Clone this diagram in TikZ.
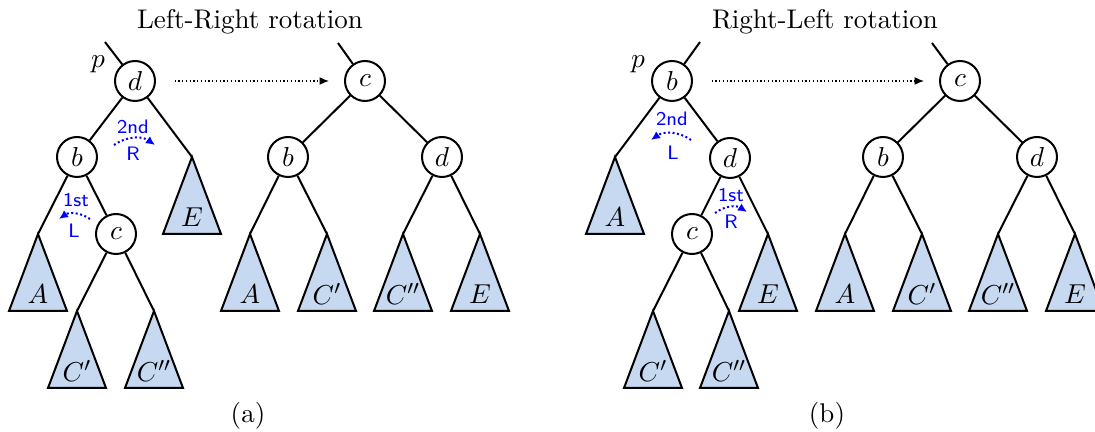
\documentclass[tikz,border=0pt]{standalone}
\usetikzlibrary{arrows.meta,calc}
\definecolor{trifill}{RGB}{198,217,240}
\newcommand{\mysub}[4]{%
  \coordinate (#1) at (#2,#3);
  \draw[tri] (#1) -- ++(-29,77) -- ++(58,0) -- cycle;
  \node[trilab] (#1lab) at ($(#1)+(0,60)$) {$#4$};
}
\begin{document}
\begin{tikzpicture}[x=0.4pt,y=-0.4pt,
  every node/.style={font=\fontsize{10.8}{13}\selectfont},
  vtx/.style={draw,circle,line width=0.8pt,minimum size=16pt,inner sep=0pt,fill=white},
  edge/.style={line width=0.8pt},
  tri/.style={draw,line width=0.8pt,fill=trifill,line join=miter},
  trilab/.style={inner sep=0pt},
  rotlab/.style={text=blue,font=\sffamily\fontsize{7.8}{9}\selectfont,inner sep=0pt},
  rotarr/.style={blue,densely dotted,line width=0.8pt,-{Latex[length=3.6pt,width=3.4pt]}},
  trans/.style={densely dotted,line width=0.5pt,-{Latex[length=3.8pt,width=3.2pt]},shorten <=7.4pt,shorten >=6pt}
]
\clip (0,0) rectangle (1095,432);
\useasboundingbox (0,0) rectangle (1095,432);

% ---------- (a) Left-Right ----------
\node (titA) at (250,22) {Left-Right rotation};
\node (capA) at (248,416) {(a)};

\coordinate (pa) at (105,42);
\node[vtx] (ad) at (135,81) {$d$};
\node (plA) at (98,64) {$p$};
\node[vtx] (ab) at (77,157) {$b$};
\node[vtx] (ac) at (116,234) {$c$};
\draw[edge] (pa) -- (ad);
\draw[edge] (ad) -- (ab);
\mysub{aE}{192}{157}{E}
\draw[edge] (ad) -- (aE);
\mysub{aA}{38}{234}{A}
\draw[edge] (ab) -- (aA);
\draw[edge] (ab) -- (ac);
\mysub{aC1}{77}{311}{C'}
\mysub{aC2}{154}{311}{C''}
\draw[edge] (ac) -- (aC1);
\draw[edge] (ac) -- (aC2);

\node[rotlab] (a2nd) at (133,127) {2nd};
\node[rotlab] (aR) at (133,154) {R};
\coordinate (a2s) at (114,145);
\coordinate (a2e) at (155,145);
\draw[rotarr] (a2s) to[bend left=35] (a2e);
\node[rotlab] (a1st) at (76,200) {1st};
\node[rotlab] (aL) at (74,231) {L};
\coordinate (a1s) at (90,219);
\coordinate (a1e) at (59,219);
\draw[rotarr] (a1s) to[bend right=35] (a1e);

\coordinate (pa2) at (338,43);
\node[vtx] (rc) at (365,81) {$c$};
\node[vtx] (rb) at (288,157) {$b$};
\node[vtx] (rd) at (442,157) {$d$};
\draw[edge] (pa2) -- (rc);
\draw[edge] (rc) -- (rb);
\draw[edge] (rc) -- (rd);
\mysub{rA}{250}{234}{A}
\mysub{rC1}{327}{234}{C'}
\mysub{rC2}{403}{234}{C''}
\mysub{rE}{480}{234}{E}
\draw[edge] (rb) -- (rA);
\draw[edge] (rb) -- (rC1);
\draw[edge] (rd) -- (rC2);
\draw[edge] (rd) -- (rE);
\draw[trans] (ad) -- (rc);

% ---------- (b) Right-Left ----------
\node (titB) at (825,22) {Right-Left rotation};
\node (capB) at (827,416) {(b)};

\coordinate (pb) at (700,42);
\node[vtx] (bb) at (672,81) {$b$};
\node (plB) at (638,64) {$p$};
\node[vtx] (bd) at (730,158) {$d$};
\node[vtx] (bc) at (692,234) {$c$};
\draw[edge] (pb) -- (bb);
\mysub{bA}{615}{157}{A}
\draw[edge] (bb) -- (bA);
\draw[edge] (bb) -- (bd);
\draw[edge] (bd) -- (bc);
\mysub{bE}{768}{234}{E}
\draw[edge] (bd) -- (bE);
\mysub{bC1}{653}{311}{C'}
\mysub{bC2}{729}{311}{C''}
\draw[edge] (bc) -- (bC1);
\draw[edge] (bc) -- (bC2);

\node[rotlab] (b2nd) at (672,119) {2nd};
\node[rotlab] (bL) at (673,153) {L};
\coordinate (b2s) at (691,140);
\coordinate (b2e) at (651,140);
\draw[rotarr] (b2s) to[bend right=35] (b2e);
\node[rotlab] (b1st) at (731,195) {1st};
\node[rotlab] (bR) at (731,222) {R};
\coordinate (b1s) at (715,213);
\coordinate (b1e) at (747,212);
\draw[rotarr] (b1s) to[bend left=35] (b1e);

\coordinate (pb2) at (932,43);
\node[vtx] (sc) at (960,81) {$c$};
\node[vtx] (sb) at (883,157) {$b$};
\node[vtx] (sd) at (1037,157) {$d$};
\draw[edge] (pb2) -- (sc);
\draw[edge] (sc) -- (sb);
\draw[edge] (sc) -- (sd);
\mysub{sA}{845}{234}{A}
\mysub{sC1}{922}{234}{C'}
\mysub{sC2}{998}{234}{C''}
\mysub{sE}{1075}{234}{E}
\draw[edge] (sb) -- (sA);
\draw[edge] (sb) -- (sC1);
\draw[edge] (sd) -- (sC2);
\draw[edge] (sd) -- (sE);
\draw[trans] (bb) -- (sc);
\end{tikzpicture}
\end{document}
